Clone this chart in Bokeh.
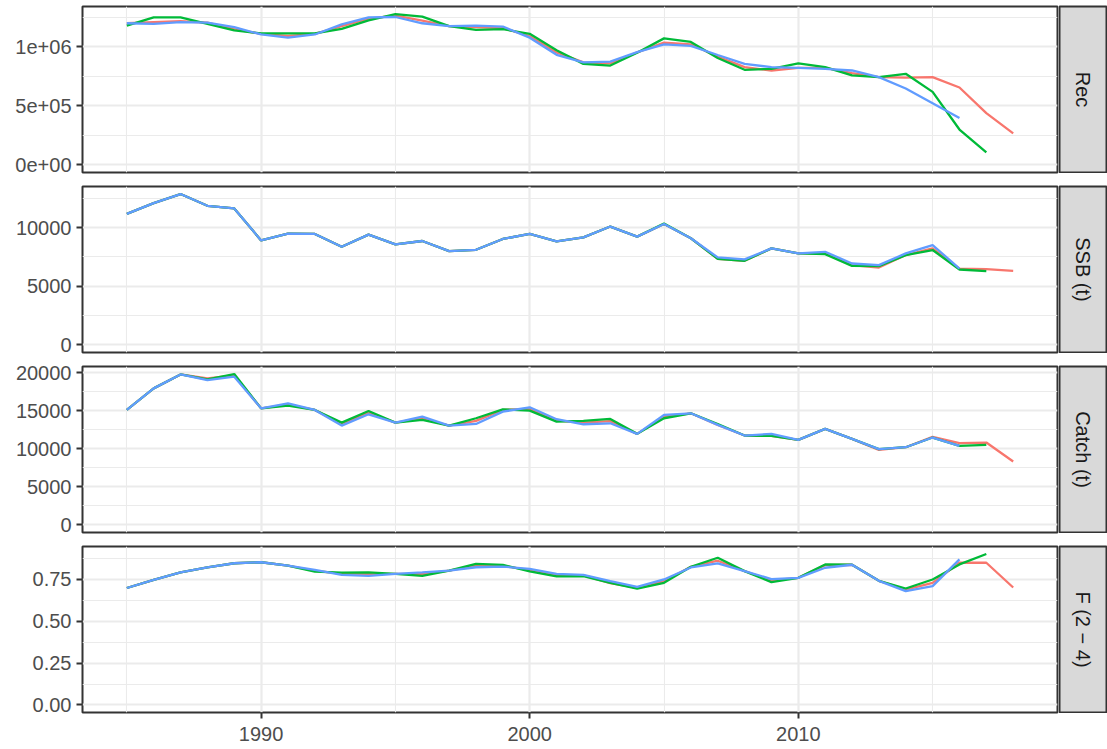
import math

from bokeh.core.properties import value
from bokeh.embed import file_html
from bokeh.layouts import column, row
from bokeh.models import FixedTicker, Range1d
from bokeh.plotting import figure
from bokeh.resources import INLINE

# Assessment years; each run ends at its own terminal year
years = list(range(1985, 2019))

# Recruitment (numbers)
rec_2018 = [1200000, 1210000, 1217000, 1205000, 1150000, 1110000, 1094000, 1110000, 1175000, 1240000,
            1264000, 1222000, 1175000, 1167000, 1160000, 1090000, 953000, 869000, 860000, 953000,
            1036000, 1022000, 917000, 828000, 800000, 822000, 822000, 778000, 744000, 739000,
            744000, 656000, 439000, 267000]
rec_2017 = [1180000, 1250000, 1250000, 1195000, 1140000, 1114000, 1114000, 1114000, 1153000, 1225000,
            1278000, 1256000, 1175000, 1144000, 1150000, 1111000, 972000, 856000, 842000, 950000,
            1072000, 1042000, 906000, 806000, 814000, 861000, 828000, 758000, 744000, 772000,
            619000, 300000, 106000]
rec_2016 = [1200000, 1194000, 1210000, 1205000, 1167000, 1105000, 1078000, 1105000, 1190000, 1250000,
            1253000, 1200000, 1175000, 1180000, 1172000, 1078000, 933000, 869000, 875000, 955000,
            1022000, 1008000, 931000, 856000, 828000, 822000, 814000, 800000, 744000, 647000,
            522000, 397000]

# Spawning stock biomass (t)
ssb_2018 = [11170, 12090, 12860, 11860, 11630, 8910, 9490, 9460, 8370, 9400,
            8570, 8860, 8000, 8110, 9030, 9460, 8830, 9170, 10090, 9230,
            10310, 9090, 7340, 7170, 8230, 7800, 7800, 6800, 6600, 7660,
            8230, 6510, 6460, 6310]
ssb_2017 = [11170, 12090, 12860, 11860, 11630, 8910, 9490, 9460, 8370, 9400,
            8570, 8860, 8000, 8110, 9030, 9460, 8830, 9170, 10090, 9230,
            10340, 9090, 7340, 7170, 8230, 7800, 7740, 6740, 6710, 7660,
            8090, 6430, 6290]
ssb_2016 = [11170, 12090, 12860, 11860, 11630, 8910, 9490, 9460, 8370, 9400,
            8570, 8860, 8000, 8110, 9030, 9460, 8830, 9170, 10090, 9230,
            10310, 9090, 7460, 7290, 8230, 7800, 7940, 6940, 6800, 7800,
            8510, 6510]

# Catch (t)
catch_2018 = [15090, 17920, 19750, 19230, 19620, 15300, 15800, 15090, 13230, 14740,
              13430, 14000, 13040, 13650, 15100, 15220, 13700, 13430, 13620, 11950,
              14210, 14650, 13125, 11730, 11690, 11160, 12600, 11300, 9850, 10200,
              11560, 10730, 10810, 8330]
catch_2017 = [15090, 17920, 19750, 19100, 19800, 15300, 15650, 15090, 13430, 14960,
              13430, 13780, 13040, 14000, 15170, 15000, 13560, 13650, 13910, 11950,
              14000, 14650, 13250, 11730, 11690, 11160, 12600, 11300, 9940, 10200,
              11470, 10380, 10510]
catch_2016 = [15090, 17920, 19750, 19010, 19450, 15300, 15960, 15090, 13040, 14520,
              13430, 14215, 13040, 13256, 14870, 15440, 13870, 13210, 13340, 11950,
              14430, 14650, 13125, 11730, 11950, 11160, 12600, 11300, 9940, 10200,
              11470, 10380]

# Fishing mortality, ages 2-4
f_2018 = [0.699, 0.748, 0.793, 0.823, 0.847, 0.853, 0.833, 0.802, 0.785, 0.783,
          0.784, 0.782, 0.803, 0.833, 0.832, 0.806, 0.776, 0.774, 0.728, 0.700,
          0.740, 0.826, 0.862, 0.800, 0.744, 0.760, 0.836, 0.838, 0.742, 0.690,
          0.730, 0.850, 0.850, 0.702]
f_2017 = [0.699, 0.748, 0.793, 0.823, 0.847, 0.853, 0.833, 0.797, 0.791, 0.793,
          0.784, 0.772, 0.803, 0.843, 0.837, 0.799, 0.768, 0.770, 0.730, 0.696,
          0.730, 0.826, 0.880, 0.800, 0.734, 0.760, 0.840, 0.838, 0.742, 0.696,
          0.750, 0.840, 0.902]
f_2016 = [0.699, 0.748, 0.793, 0.823, 0.847, 0.853, 0.833, 0.807, 0.778, 0.772,
          0.784, 0.793, 0.803, 0.823, 0.827, 0.813, 0.784, 0.778, 0.740, 0.706,
          0.750, 0.822, 0.846, 0.800, 0.752, 0.760, 0.820, 0.838, 0.742, 0.680,
          0.710, 0.870]

# Axis ticks and their labels
year_ticks = [1990, 2000, 2010]
year_minor = [1985, 1995, 2005, 2015]
year_labels = ["1990", "2000", "2010"]

rec_ticks = [0, 500000, 1000000]
rec_minor = [250000, 750000, 1250000]
rec_labels = ["0e+00", "5e+05", "1e+06"]

ssb_ticks = [0, 5000, 10000]
ssb_minor = [2500, 7500, 12500]
ssb_labels = ["0", "5000", "10000"]

catch_ticks = [0, 5000, 10000, 15000, 20000]
catch_minor = [2500, 7500, 12500, 17500]
catch_labels = ["0", "5000", "10000", "15000", "20000"]

f_ticks = [0, 0.25, 0.5, 0.75]
f_minor = [0.125, 0.375, 0.625, 0.875]
f_labels = ["0.00", "0.25", "0.50", "0.75"]

strip_names = ["Rec", "SSB (t)", "Catch (t)", "F (2 \u2212 4)"]
run_colors = ["#F8766D", "#00BA38", "#619CFF"]

panels = [
    ([rec_2018, rec_2017, rec_2016], rec_ticks, rec_minor, rec_labels),
    ([ssb_2018, ssb_2017, ssb_2016], ssb_ticks, ssb_minor, ssb_labels),
    ([catch_2018, catch_2017, catch_2016], catch_ticks, catch_minor, catch_labels),
    ([f_2018, f_2017, f_2016], f_ticks, f_minor, f_labels),
]

FONT = "Liberation Sans"
FRAME_W, FRAME_H = 975, 166
STRIP_W = 47

x_lo, x_hi = years[0], years[-1]
x_pad = 0.05 * (x_hi - x_lo)


def style_axis(ax, ticker, labels):
    ax.ticker = ticker
    ax.major_label_overrides = dict(zip(ticker.ticks, labels))
    ax.major_label_text_font = FONT
    ax.major_label_text_font_size = "20px"
    ax.major_label_text_color = "#4D4D4D"
    ax.major_label_standoff = 5
    ax.axis_line_color = None
    ax.major_tick_in = 0
    ax.major_tick_out = 6
    ax.major_tick_line_color = "#333333"
    ax.major_tick_line_width = 2
    ax.minor_tick_line_color = None


rows = []
for i, (series, ticks, minor, labels) in enumerate(panels):
    last = i == len(panels) - 1
    y_lo = min(0, min(min(s) for s in series))
    y_hi = max(max(s) for s in series)
    y_pad = 0.05 * (y_hi - y_lo)
    top = 6 if i == 0 else 7
    bottom = 7 if not last else 37

    p = figure(frame_width=FRAME_W, frame_height=FRAME_H,
               x_range=Range1d(x_lo - x_pad, x_hi + x_pad),
               y_range=Range1d(y_lo - y_pad, y_hi + y_pad),
               toolbar_location=None, output_backend="svg",
               min_border_left=82, min_border_right=1,
               min_border_top=top, min_border_bottom=bottom,
               background_fill_color="white", border_fill_color="white")
    p.outline_line_color = "#333333"
    p.outline_line_width = 2

    xt = FixedTicker(ticks=year_ticks, minor_ticks=year_minor)
    yt = FixedTicker(ticks=ticks, minor_ticks=minor)

    style_axis(p.yaxis[0], yt, labels)
    style_axis(p.xaxis[0], xt, year_labels)
    p.xaxis.major_label_standoff = 8
    if not last:
        p.xaxis.visible = False

    for g, t in ((p.xgrid[0], xt), (p.ygrid[0], yt)):
        g.ticker = t
        g.grid_line_color = "#EBEBEB"
        g.grid_line_width = 2.2
        g.minor_grid_line_color = "#EBEBEB"
        g.minor_grid_line_width = 1.1

    for vals, col in zip(series, run_colors):
        p.line(years[:len(vals)], vals, line_color=col, line_width=2.3)

    # facet strip on the right
    s = figure(frame_width=STRIP_W, frame_height=FRAME_H,
               x_range=Range1d(0, 1), y_range=Range1d(0, 1),
               toolbar_location=None, output_backend="svg",
               min_border_left=1, min_border_right=1,
               min_border_top=top, min_border_bottom=1,
               background_fill_color="#D9D9D9", border_fill_color="white")
    s.outline_line_color = "#333333"
    s.outline_line_width = 2
    s.axis.visible = False
    s.grid.visible = False
    s.text(x=[0.5], y=[0.5], text=[strip_names[i]], angle=-math.pi / 2,
           text_align="center", text_baseline="middle",
           text_font=value(FONT), text_font_size="20px", text_color="#1A1A1A")

    rows.append(row(p, s, spacing=0))

layout = column(*rows, spacing=0)

open("out.html", "w").write(file_html(layout, INLINE))
